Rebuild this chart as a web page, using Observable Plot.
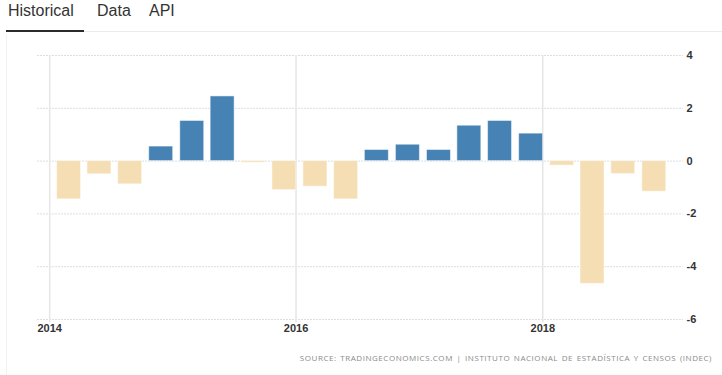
<!DOCTYPE html>
<html>
<head>
<meta charset="utf-8">
<script src="https://cdn.jsdelivr.net/npm/d3@7"></script>
<script src="https://cdn.jsdelivr.net/npm/@observablehq/plot@0.6"></script>
<style>
  html, body { margin: 0; padding: 0; background: #fff; width: 722px; height: 375px; overflow: hidden; font-family: "Liberation Sans", Arial, sans-serif; }
  #tabs { position: absolute; left: 0; top: 0; width: 722px; height: 34px; }
  .tab { position: absolute; top: 2px; font-size: 16px; color: #333; }
  #underline { position: absolute; left: 6px; top: 30px; width: 78px; height: 2px; background: #2a2a2a; }
  #tabline { position: absolute; left: 84px; top: 31px; width: 638px; height: 1px; background: #ececec; }
  #frame { position: absolute; left: 6px; top: 34px; width: 1px; height: 341px; background: #f2f2f2; }
  #chart { position: absolute; left: 0; top: 36px; }
  #source { position: absolute; right: 10px; top: 352px; font-family: "Open Sans", "DejaVu Sans", sans-serif; font-size: 8px; letter-spacing: 0.55px; word-spacing: 1px; color: #8a8a8a; white-space: nowrap; }
</style>
</head>
<body>
<div id="tabs">
  <span class="tab" style="left:8px">Historical</span>
  <span class="tab" style="left:97px">Data</span>
  <span class="tab" style="left:149px">API</span>
  <div id="underline"></div>
  <div id="tabline"></div>
</div>
<div id="frame"></div>
<div id="chart"></div>
<div id="source">SOURCE: TRADINGECONOMICS.COM | INSTITUTO NACIONAL DE ESTADÍSTICA Y CENSOS (INDEC)</div>
<script>
// Quarterly series (quarter start dates) and values
const quarters = [
  "2014-01-01","2014-04-01","2014-07-01","2014-10-01",
  "2015-01-01","2015-04-01","2015-07-01","2015-10-01",
  "2016-01-01","2016-04-01","2016-07-01","2016-10-01",
  "2017-01-01","2017-04-01","2017-07-01","2017-10-01",
  "2018-01-01","2018-04-01","2018-07-01","2018-10-01"
];
const values = [
  -1.45, -0.5, -0.88, 0.55,
  1.52, 2.45, -0.06, -1.1,
  -0.97, -1.45, 0.42, 0.62,
  0.42, 1.34, 1.52, 1.04,
  -0.17, -4.65, -0.49, -1.16
];
const yTicks = [-6, -4, -2, 0, 2, 4];
const xTickYears = ["2014-01-01", "2016-01-01", "2018-01-01"];

const posColor = "#4682b4";
const negColor = "#f5deb3";

const data = quarters.map((q, i) => {
  const d = new Date(q + "T00:00:00Z");
  return {
    x1: d3.utcDay.offset(d, 22),
    x2: d3.utcDay.offset(d, 93),
    value: values[i]
  };
});
const xTicks = xTickYears.map(s => new Date(s + "T00:00:00Z"));

const chart = Plot.plot({
  width: 722,
  height: 300,
  marginLeft: 37,
  marginRight: 39,
  marginTop: 19,
  marginBottom: 17,
  style: { fontFamily: "Liberation Sans, Arial, sans-serif", fontSize: "11px", color: "#333", background: "transparent" },
  x: { type: "utc", domain: [new Date("2013-11-26T00:00:00Z"), new Date("2019-02-22T00:00:00Z")], axis: null },
  y: { domain: [-6, 4], axis: null },
  marks: [
    Plot.gridY(yTicks, { stroke: "#dedede", strokeOpacity: 1, strokeDasharray: "2,1" }),
    Plot.ruleX(xTicks, { x: d => d, y1: 4, y2: -6.12, stroke: "#e6e6e6", strokeWidth: 1.5 }),
    Plot.rectY(data, {
      x1: "x1", x2: "x2", y1: 0, y2: "value",
      fill: d => d.value >= 0 ? posColor : negColor,
      stroke: "#ffffff", strokeWidth: 1, strokeOpacity: 0.5
    }),
    Plot.axisY(yTicks, { anchor: "right", label: null, tickSize: 0, tickPadding: 3, tickFormat: d => String(d), fill: "#333", fontWeight: "bold" }),
    Plot.axisX(xTicks, { anchor: "bottom", label: null, tickSize: 0, tickPadding: 5, tickFormat: d3.utcFormat("%Y"), fill: "#333", fontWeight: "bold" })
  ]
});
document.getElementById("chart").appendChild(chart);
</script>
</body>
</html>
